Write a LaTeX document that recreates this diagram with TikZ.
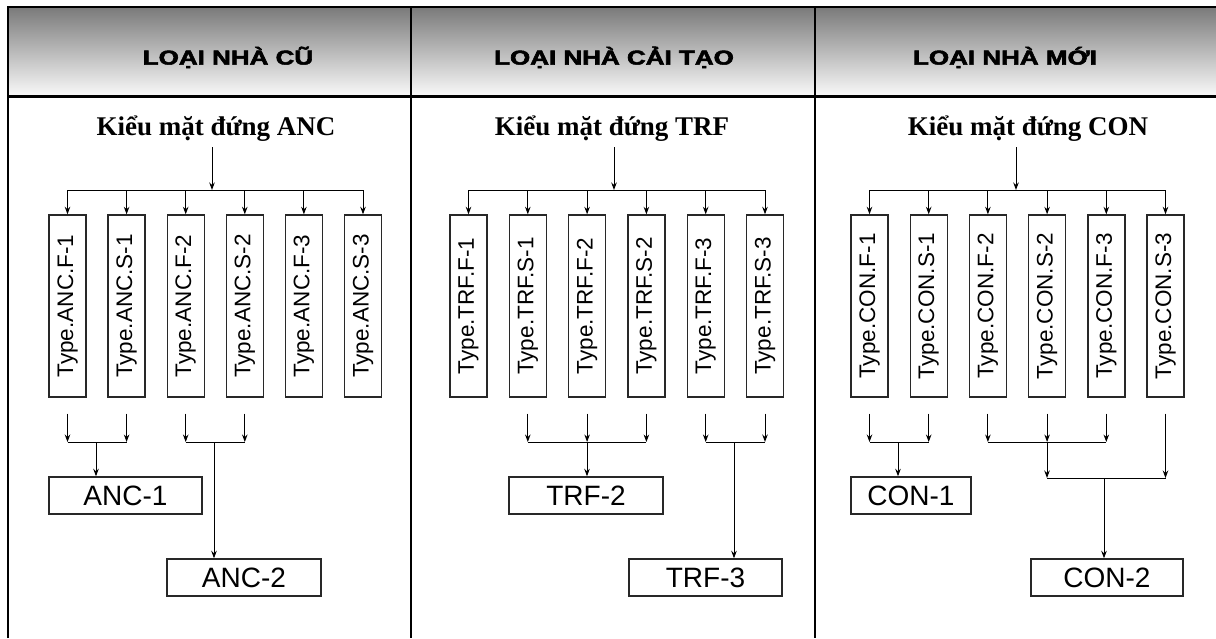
\documentclass[tikz,border=0pt]{standalone}
\usepackage{fontspec}
\usepackage{graphicx}
\setmainfont{Liberation Serif}
\newfontfamily\hsans{Liberation Sans}
\newfontfamily\hsansbf{Liberation Sans Bold}[FakeBold=2.5]
\usetikzlibrary{arrows.meta,calc}
\definecolor{hdtop}{RGB}{122,122,122}
\definecolor{hdbot}{RGB}{250,250,250}
\definecolor{boxc}{RGB}{40,40,40}
\tikzset{
  hdr/.style={font=\hsansbf\fontsize{20}{22}\selectfont, anchor=base, inner sep=0pt},
  subt/.style={font=\bfseries\fontsize{27}{30}\selectfont, anchor=base, inner sep=2pt},
  typebox/.style={draw=boxc, line width=1.4pt, minimum width=37pt, minimum height=182pt, inner sep=0pt, font=\hsans\fontsize{22.5}{24}\selectfont},
  grpbox/.style={draw=boxc, line width=1.4pt, minimum height=37pt, inner sep=0pt, font=\hsans\fontsize{28}{30}\selectfont},
  arr/.style={line width=1pt, -{Stealth[length=7.5pt,width=5.5pt]}},
  ln/.style={line width=1pt},
  framel/.style={line width=2.2pt}
}
\begin{document}
\begin{tikzpicture}[x=1pt,y=-1pt]
\useasboundingbox (0,0) rectangle (1216,638);
% header shading
\fill[top color=hdtop, bottom color=hdbot] (8,7) rectangle (411,96.5);
\fill[top color=hdtop, bottom color=hdbot] (411,7) rectangle (815,96.5);
\fill[top color=hdtop, bottom color=hdbot] (815,7) rectangle (1216,96.5);
% frame
\draw[framel] (8,638) -- (8,7) -- (1216,7);
\draw[framel] (411,7) -- (411,638);
\draw[framel] (815,7) -- (815,638);
\draw[framel] (8,96.5) -- (1216,96.5);
% headers
\node[hdr] (h1) at (228,64.5) {\scalebox{1.3}[1]{LOẠI NHÀ CŨ}};
\node[hdr] (h2) at (614,64.5) {\scalebox{1.3}[1]{LOẠI NHÀ CẢI TẠO}};
\node[hdr] (h3) at (1005,64.5) {\scalebox{1.3}[1]{LOẠI NHÀ MỚI}};
% subtitles
\node[subt] (sa) at (216,135) {Kiểu mặt đứng ANC};
\node[subt] (st) at (612,135) {Kiểu mặt đứng TRF};
\node[subt] (sc) at (1028,135) {Kiểu mặt đứng CON};
% type boxes
\foreach \lab [count=\i] in {F-1,S-1,F-2,S-2,F-3,S-3} {
  \node[typebox] (a\i) at ({67.5+59.1*(\i-1)},306) {\rotatebox{90}{Type.ANC.\lab}};
  \node[typebox] (t\i) at ({468.5+59.3*(\i-1)},306) {\rotatebox{90}{Type.TRF.\lab}};
  \node[typebox] (c\i) at ({869.5+59.2*(\i-1)},306) {\rotatebox{90}{Type.CON.\lab}};
}
% top junctions
\coordinate (ka) at (212,190);
\coordinate (kt) at (614,190);
\coordinate (kc) at (1016,190);
\draw[arr, shorten <=4pt] (sa.south -| ka) -- (ka);
\draw[arr, shorten <=4pt] (st.south -| kt) -- (kt);
\draw[arr, shorten <=4pt] (sc.south -| kc) -- (kc);
\draw[ln] (a1.north |- ka) -- (a6.north |- ka);
\draw[ln] (t1.north |- kt) -- (t6.north |- kt);
\draw[ln] (c1.north |- kc) -- (c6.north |- kc);
\foreach \i in {1,...,6} {
  \draw[arr] (a\i.north |- ka) -- (a\i.north);
  \draw[arr] (t\i.north |- kt) -- (t\i.north);
  \draw[arr] (c\i.north |- kc) -- (c\i.north);
}
% group boxes
\node[grpbox, minimum width=153pt] (n1) at (125.5,495.5) {ANC-1};
\node[grpbox, minimum width=154pt] (n2) at (244,577.5) {ANC-2};
\node[grpbox, minimum width=154pt] (n3) at (586,495.5) {TRF-2};
\node[grpbox, minimum width=153pt] (n4) at (705.5,577.5) {TRF-3};
\node[grpbox, minimum width=120pt] (n5) at (911,495.5) {CON-1};
\node[grpbox, minimum width=152pt] (n6) at (1107,577.5) {CON-2};
% lower junctions
\coordinate (j1) at (96,442);
\coordinate (j2) at (214,442);
\coordinate (j3) at (587,442);
\coordinate (j4) at (734,442);
\coordinate (j5) at (898,442);
\coordinate (j6) at (1047,442);
\coordinate (j7) at (1104,478);
% ANC
\foreach \i in {1,2} \draw[arr] ([yshift=-16pt]a\i.south) -- (a\i.south |- j1);
\draw[ln] (a1.south |- j1) -- (a2.south |- j1);
\draw[arr] (j1) -- (j1 |- n1.north);
\foreach \i in {3,4} \draw[arr] ([yshift=-16pt]a\i.south) -- (a\i.south |- j2);
\draw[ln] (a3.south |- j2) -- (a4.south |- j2);
\draw[arr] (j2) -- (j2 |- n2.north);
% TRF
\foreach \i in {2,3,4} \draw[arr] ([yshift=-16pt]t\i.south) -- (t\i.south |- j3);
\draw[ln] (t2.south |- j3) -- (t4.south |- j3);
\draw[arr] (j3) -- (j3 |- n3.north);
\foreach \i in {5,6} \draw[arr] ([yshift=-16pt]t\i.south) -- (t\i.south |- j4);
\draw[ln] (t5.south |- j4) -- (t6.south |- j4);
\draw[arr] (j4) -- (j4 |- n4.north);
% CON
\foreach \i in {1,2} \draw[arr] ([yshift=-16pt]c\i.south) -- (c\i.south |- j5);
\draw[ln] (c1.south |- j5) -- (c2.south |- j5);
\draw[arr] (j5) -- (j5 |- n5.north);
\foreach \i in {3,4,5} \draw[arr] ([yshift=-16pt]c\i.south) -- (c\i.south |- j6);
\draw[ln] (c3.south |- j6) -- (c5.south |- j6);
\draw[arr] (j6) -- (j6 |- j7);
\draw[arr] ([yshift=-16pt]c6.south) -- (c6.south |- j7);
\draw[ln] (j6 |- j7) -- (c6.south |- j7);
\draw[arr] (j7) -- (j7 |- n6.north);
\end{tikzpicture}
\end{document}
